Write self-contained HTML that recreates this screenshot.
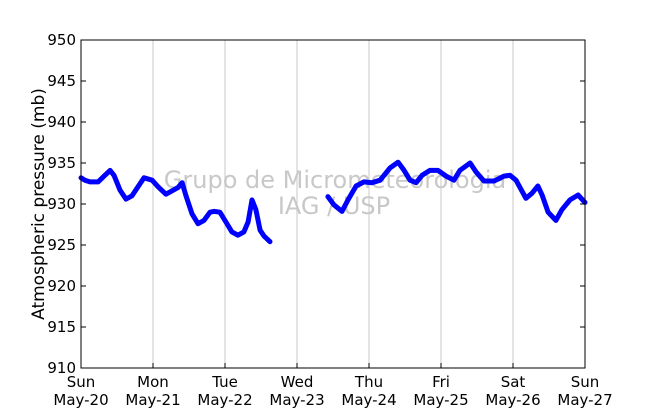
<!DOCTYPE html>
<html><head><meta charset="utf-8"><style>
body{margin:0;background:#fff;width:650px;height:409px;overflow:hidden}
svg text{font-family:"DejaVu Sans","Liberation Sans",sans-serif;fill:#000}
</style></head><body>
<svg id="chart" width="650" height="409" viewBox="0 0 650 409" xmlns="http://www.w3.org/2000/svg">
<rect x="0" y="0" width="650" height="409" fill="#fff"/>
<g id="grid"></g>
<g id="wm"></g>
<g id="series"></g>
<rect x="81" y="40" width="504" height="328" fill="none" stroke="#000" stroke-width="1"/>
<g id="axes"></g>
<text transform="translate(44,204) rotate(-90)" text-anchor="middle" font-size="17">Atmospheric pressure (mb)</text>
</svg>
<script>
const seg1Hours=[0,1.3,3,5.7,7.7,9.7,11,13,15,17,19,21,23.7,25.7,28.3,30.3,32.3,33.7,35,37,39,41,43,44.3,46.3,48.3,50.3,52.3,54.3,55.7,57,58.3,59.7,61,63];
const seg1Values=[933.2,932.9,932.7,932.7,933.4,934.1,933.5,931.7,930.6,931.0,932.1,933.2,932.9,932.1,931.2,931.6,932.0,932.6,931.0,928.8,927.6,928.0,929.0,929.1,929.0,927.8,926.6,926.2,926.6,927.8,930.5,929.3,926.8,926.1,925.4];
const seg2Hours=[82.3,84.3,87,89,91.7,94.3,97,99.7,103,105.7,107.7,109.7,111.7,113.7,116.3,119,121.7,124.3,126.3,129.7,131.7,134.3,137.7,141,143,145,148.3,150.3,152.3,153.7,155.7,158.3,160.3,163,165.7,168];
const seg2Values=[930.9,929.9,929.1,930.5,932.2,932.7,932.6,932.9,934.4,935.1,934.1,932.9,932.6,933.5,934.1,934.1,933.4,932.9,934.1,935.0,933.9,932.8,932.8,933.4,933.5,932.9,930.7,931.3,932.2,931.1,929.0,928.0,929.3,930.5,931.1,930.2];
const yTicks=[910,915,920,925,930,935,940,945,950];
const xDays=["Sun","Mon","Tue","Wed","Thu","Fri","Sat","Sun"];
const xDates=["May-20","May-21","May-22","May-23","May-24","May-25","May-26","May-27"];
const NS="http://www.w3.org/2000/svg";
const X0=81,X1=585,Y0=368,Y1=40;
function xs(h){return X0+(h/168)*(X1-X0);}
function ys(v){return Y0-(v-910)/40*(Y0-Y1);}
function mk(t,a,p){const e=document.createElementNS(NS,t);for(const k in a)e.setAttribute(k,a[k]);p.appendChild(e);return e;}
const grid=document.getElementById('grid'),axes=document.getElementById('axes'),ser=document.getElementById('series'),wm=document.getElementById('wm');
xDays.forEach((d,i)=>{
  const x=xs(i*24);
  if(i>0&&i<7){const g=mk('line',{x1:x,x2:x,y1:Y1,y2:Y0,stroke:'#c8c8c8','stroke-width':1},grid);
  
  }
  const t=mk('line',{x1:x,x2:x,y1:Y0,y2:Y0-5,stroke:'#000'},axes);
  
  
  const l=mk('text',{x:x,y:387,'text-anchor':'middle','font-size':15},axes);
  
  
  l.textContent=d;
  const l2=mk('text',{x:x,y:405,'text-anchor':'middle','font-size':15},axes);
  
  
  l2.textContent=xDates[i];
});
yTicks.forEach(v=>{
  const y=ys(v);
  const t=mk('line',{x1:X0,x2:X0+5,y1:y,y2:y,stroke:'#000'},axes);
  
  
  const t2=mk('line',{x1:X1,x2:X1-5,y1:y,y2:y,stroke:'#000'},axes);
  
  
  const l=mk('text',{x:76,y:y+5,'text-anchor':'end','font-size':15},axes);
  
  
  l.textContent=v;
});
const w1=mk('text',{x:335,y:188,'text-anchor':'middle','font-size':24,style:'fill:#c8c8c8'},wm);


w1.textContent='Grupo de Micrometeorologia';
const w2=mk('text',{x:334,y:214,'text-anchor':'middle','font-size':24,style:'fill:#c8c8c8'},wm);


w2.textContent='IAG / USP';
[[seg1Hours,seg1Values],[seg2Hours,seg2Values]].forEach(([h,v])=>{
  const pts=h.map((hh,i)=>xs(hh).toFixed(1)+','+ys(v[i]).toFixed(1)).join(' ');
  const p=mk('polyline',{points:pts,fill:'none',stroke:'#0000ff','stroke-width':5,'stroke-linejoin':'round','stroke-linecap':'round'},ser);
  
  
});
</script>
</body></html>
